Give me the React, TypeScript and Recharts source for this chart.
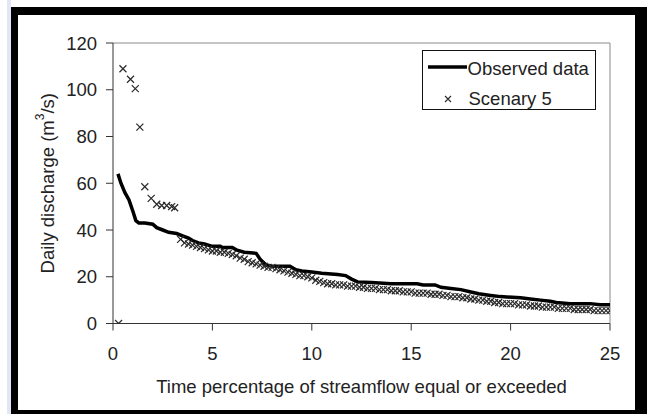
import {
  ComposedChart,
  Line,
  Scatter,
  XAxis,
  YAxis,
  Legend,
  ReferenceLine,
} from 'recharts';

// Observed flow duration curve (x = % of time, y = m3/s)
const observedX = [
  0.25, 0.4, 0.6, 0.8, 1.0, 1.15, 1.3, 1.6, 2.0, 2.2, 2.5, 2.8, 3.2, 3.5, 3.8,
  4.0, 4.3, 4.6, 5.0, 5.4, 5.5, 6.0, 6.2, 6.6, 7.2, 7.4, 7.7, 8.0, 8.9, 9.2,
  9.5, 10.0, 10.5, 11.3, 11.7, 12.0, 12.3, 13.0, 14.0, 15.3, 15.6, 16.2, 16.5,
  17.0, 17.5, 18.0, 18.4, 19.0, 19.5, 20.5, 21.0, 21.5, 22.0, 22.3, 23.0, 24.0,
  24.5, 25.0,
];
const observedY = [
  64, 60, 56, 53, 48, 44, 43, 43, 42.5, 41, 40, 39, 38.5, 37.5, 36.5,
  35.5, 34.5, 34, 33, 33, 32.5, 32.5, 31.5, 30.5, 30, 27.5, 25, 24.5, 24.5, 23,
  22.5, 22, 21.5, 21, 20.5, 19, 17.8, 17.5, 17, 17, 16.5, 16.5, 15.5,
  15, 14.5, 13.5, 12.7, 12, 11.5, 11, 10.5, 10, 9.5, 9, 8.5, 8.5,
  8, 8,
];

// Scenary 5 simulated values
const scenaryX = [
  0.28, 0.5, 0.88, 1.12, 1.35, 1.6, 1.92, 2.2, 2.45, 2.7, 2.95, 3.1,
  3.4, 3.6, 3.8, 4.0, 4.2, 4.4, 4.6, 4.8, 5.0, 5.2, 5.4, 5.6, 5.8, 6.0, 6.2,
  6.4, 6.6, 6.8, 7.0, 7.2, 7.4, 7.6, 7.8, 8.0, 8.2, 8.4, 8.6, 8.8, 9.0, 9.2,
  9.4, 9.6, 9.8, 10.0, 10.2, 10.4, 10.6, 10.8, 11.0, 11.2, 11.4, 11.6, 11.8,
  12.0, 12.2, 12.4, 12.6, 12.8, 13.0, 13.2, 13.4, 13.6, 13.8, 14.0, 14.2, 14.4,
  14.6, 14.8, 15.0, 15.2, 15.4, 15.6, 15.8, 16.0, 16.2, 16.4, 16.6, 16.8, 17.0,
  17.2, 17.4, 17.6, 17.8, 18.0, 18.2, 18.4, 18.6, 18.8, 19.0, 19.2, 19.4, 19.6,
  19.8, 20.0, 20.2, 20.4, 20.6, 20.8, 21.0, 21.2, 21.4, 21.6, 21.8, 22.0, 22.2,
  22.4, 22.6, 22.8, 23.0, 23.2, 23.4, 23.6, 23.8, 24.0, 24.2, 24.4, 24.6, 24.8,
  25.0,
];
const scenaryY = [
  0, 109, 104.5, 100.5, 84, 58.5, 53.5, 51, 50.5, 50.5, 50, 49.5,
  36, 34.5, 34, 33.5, 33, 32.5, 32, 31.5, 31, 31, 30.5, 30.5, 30, 29.5, 29,
  28, 27.5, 26.5, 26, 25.5, 25, 24.5, 24, 24, 23.5, 23, 22.5, 22, 21.5, 21,
  20.5, 20.5, 20, 19.5, 18.5, 18, 17.5, 17, 17, 16.5, 16.5, 16.5, 16,
  16, 16, 15.5, 15.5, 15, 15, 15, 14.5, 14.5, 14.5, 14, 14, 14,
  13.5, 13.5, 13.5, 13, 13, 13, 13, 12.5, 12.5, 12.5, 12, 12, 11.5,
  11.5, 11.5, 11, 11, 10.5, 10.5, 10, 10, 9.5, 9.5, 9, 9, 8.5,
  8.5, 8.5, 8.5, 8, 8, 8, 7.5, 7.5, 7.5, 7, 7, 7, 7,
  6.5, 6.5, 6.5, 6.5, 6, 6, 6, 6, 6, 5.5, 5.5, 5.5, 5.5,
  5.5,
];

const xTicks = [0, 5, 10, 15, 20, 25];
const yTicks = [0, 20, 40, 60, 80, 100, 120];

const observedData = observedX.map((x, i) => ({ x, y: observedY[i] }));
const scenaryData = scenaryX.map((x, i) => ({ x, y: scenaryY[i] }));

const FONT = '"Liberation Sans", Arial, sans-serif';
const FONT_SIZE = 18.5;
const TEXT = '#222';

function Cross(props: any) {
  const { cx, cy } = props;
  const r = 3.5;
  return (
    <path
      d={`M${cx - r},${cy - r}L${cx + r},${cy + r}M${cx + r},${cy - r}L${cx - r},${cy + r}`}
      stroke="#2a2a2a"
      strokeWidth={1.2}
      fill="none"
    />
  );
}

function YLabel(props: any) {
  const vb = props.viewBox || {};
  const x = vb.x + 47;
  const y = vb.y + vb.height / 2;
  return (
    <text
      x={x}
      y={y}
      transform={`rotate(-90, ${x}, ${y})`}
      textAnchor="middle"
      dominantBaseline="central"
      fontFamily={FONT}
      fontSize={FONT_SIZE}
      fill={TEXT}
    >
      Daily discharge (m
      <tspan dy={-7} fontSize={12}>3</tspan>
      <tspan dy={7}>/s)</tspan>
    </text>
  );
}

function LegendBox() {
  return (
    <div
      style={{
        width: 174,
        height: 60,
        boxSizing: 'border-box',
        border: '1px solid #111',
        background: '#fff',
        fontFamily: FONT,
        fontSize: FONT_SIZE,
        color: TEXT,
        position: 'relative',
      }}
    >
      <svg width={44} height={60} style={{ position: 'absolute', left: 0, top: 0 }}>
        <line x1={5} y1={16} x2={44} y2={16} stroke="#000" strokeWidth={3.5} />
        <path d="M22,45L28,51M28,45L22,51" stroke="#2a2a2a" strokeWidth={1.1} />
      </svg>
      <div style={{ position: 'absolute', left: 45, top: 7, lineHeight: '22px' }}>
        Observed data
      </div>
      <div style={{ position: 'absolute', left: 46, top: 37, lineHeight: '22px' }}>
        Scenary 5
      </div>
    </div>
  );
}

export default function App() {
  return (
    <div
      style={{
        position: 'absolute',
        left: 0,
        top: 0,
        width: 647,
        height: 414,
        background: '#fff',
        overflow: 'hidden',
      }}
    >
      <div style={{ position: 'absolute', left: 7, top: 0, width: 4, height: 414, background: '#e2e7f3' }} />
      <div
        style={{
          position: 'absolute',
          left: 11,
          top: 7,
          width: 636,
          height: 407,
          boxSizing: 'border-box',
          borderLeft: '7px solid #000',
          borderTop: '8px solid #000',
          borderRight: '12px solid #000',
          borderBottom: '4px solid #000',
          background: '#fff',
        }}
      />
      <div style={{ position: 'absolute', left: 0, top: 0 }}>
        <ComposedChart
          width={647}
          height={414}
          margin={{ top: 43, right: 37, bottom: 0, left: 0 }}
        >
          <XAxis
            type="number"
            dataKey="x"
            domain={[0, 25]}
            ticks={xTicks}
            allowDataOverflow
            height={90.5}
            tickSize={7}
            tickMargin={16.5}
            stroke="#333"
            tick={{ fill: TEXT, fontSize: FONT_SIZE, fontFamily: FONT }}
            label={{
              value: 'Time percentage of streamflow equal or exceeded',
              position: 'insideBottom',
              offset: 21,
              fill: TEXT,
              fontSize: FONT_SIZE,
              fontFamily: FONT,
            }}
          />
          <YAxis
            type="number"
            dataKey="y"
            domain={[0, 120]}
            ticks={yTicks}
            allowDataOverflow
            width={113}
            tickSize={7}
            tickMargin={9}
            stroke="#333"
            tick={{ fill: TEXT, fontSize: FONT_SIZE, fontFamily: FONT }}
            label={{ content: (p: any) => <YLabel {...p} /> }}
          />
          <ReferenceLine y={120} stroke="#8a8a8a" strokeWidth={1} />
          <ReferenceLine x={25} stroke="#8a8a8a" strokeWidth={1} />
          <Legend
            layout="horizontal"
            verticalAlign="middle"
            align="center"
            wrapperStyle={{ left: 421.5, top: 50, width: 174, height: 60 }}
            content={() => <LegendBox />}
          />
          <Scatter
            name="Scenary 5"
            data={scenaryData}
            shape={Cross}
            isAnimationActive={false}
          />
          <Line
            name="Observed data"
            data={observedData}
            dataKey="y"
            type="linear"
            stroke="#000"
            strokeWidth={3.5}
            dot={false}
            activeDot={false}
            isAnimationActive={false}
          />
        </ComposedChart>
      </div>
    </div>
  );
}
